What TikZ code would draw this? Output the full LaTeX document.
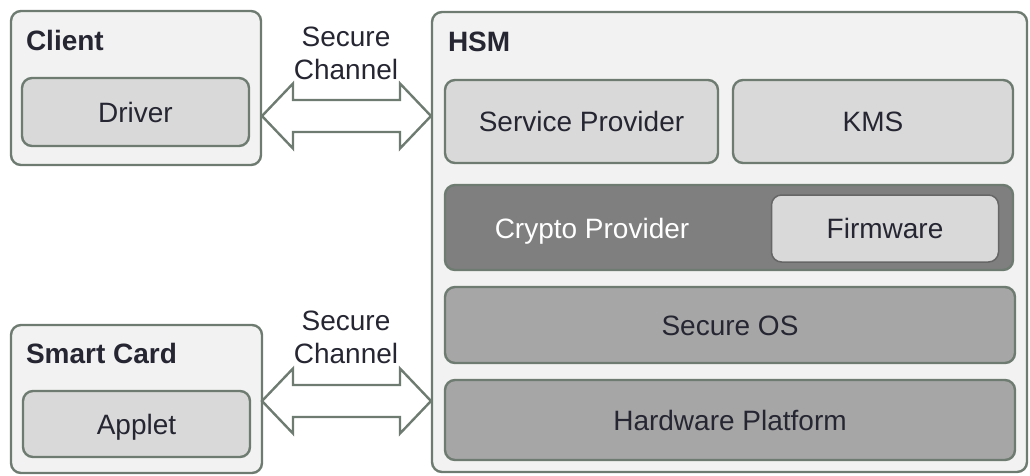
\documentclass[tikz,border=0pt]{standalone}
\usepackage{fontspec}
\setmainfont{Liberation Sans}
\usetikzlibrary{calc}
\definecolor{bordc}{HTML}{6E7B71}
\definecolor{outerfill}{HTML}{F2F2F2}
\definecolor{lightfill}{HTML}{D9D9D9}
\definecolor{darkfill}{HTML}{7F7F7F}
\definecolor{midfill}{HTML}{A6A6A6}
\definecolor{txt}{HTML}{262633}
\newcommand\fatarrow[2]{\draw[chan] (#1) -- ++(31,-32.5) -- ++(0,16.5) -- ($(#2)+(-31,-16)$) -- ++(0,-16.5) -- (#2) -- ++(-31,32.5) -- ++(0,-16.5) -- ($(#1)+(31,16)$) -- ++(0,16.5) -- cycle;}
\begin{document}
\begin{tikzpicture}[x=1pt,y=-1pt,
  every node/.style={font=\fontsize{28}{33}\selectfont, text=txt, inner sep=0pt, outer sep=0pt},
  boxtext/.style={text height=20pt, text depth=0pt},
  outerbox/.style={draw=bordc, line width=2.4pt, fill=outerfill, rounded corners=10pt},
  lightbox/.style={boxtext, draw=bordc, line width=2.4pt, fill=lightfill, rounded corners=10pt},
  darkbox/.style={draw=bordc, line width=2.4pt, fill=darkfill, rounded corners=10pt},
  midbox/.style={boxtext, draw=bordc, line width=2.4pt, fill=midfill, rounded corners=10pt},
  title/.style={font=\bfseries\fontsize{28}{33}\selectfont, anchor=west},
  chan/.style={draw=bordc, line width=2.4pt, fill=white, line join=miter},
  chanlabel/.style={align=center}
]
\useasboundingbox (0,0) rectangle (1030,475);
% Client
\node[outerbox, minimum width=250pt, minimum height=154pt] (client) at (136,88) {};
\node[title] (clientlbl) at (26,40) {Client};
\node[lightbox, minimum width=227pt, minimum height=68pt] (driver) at (135.5,112) {Driver};
% Smart card
\node[outerbox, minimum width=251pt, minimum height=148pt] (smart) at (136.5,399) {};
\node[title] (smartlbl) at (26,353) {Smart Card};
\node[lightbox, minimum width=227pt, minimum height=66pt] (applet) at (136.5,424) {Applet};
% HSM
\node[outerbox, minimum width=595pt, minimum height=460pt] (hsm) at (729.5,242) {};
\node[title] (hsmlbl) at (448,42) {HSM};
\node[lightbox, minimum width=273pt, minimum height=83pt] (sp) at (581.5,121.5) {Service Provider};
\node[lightbox, minimum width=280pt, minimum height=83pt] (kms) at (873,121.5) {KMS};
\node[darkbox, minimum width=568pt, minimum height=85pt] (crypto) at (729,227.5) {};
\node[boxtext, text=white] (cryptolbl) at (592,228) {Crypto Provider};
\node[lightbox, line width=1.5pt, draw=darkfill!80!black, minimum width=227pt, minimum height=67pt] (firmware) at (885,228.5) {Firmware};
\node[midbox, minimum width=570pt, minimum height=76pt] (os) at (730,325) {Secure OS};
\node[midbox, minimum width=570pt, minimum height=80pt] (hw) at (730,420) {Hardware Platform};
% Channels
\coordinate (c1l) at (262,116);
\coordinate (c1r) at (431,116);
\coordinate (c2l) at (262,401);
\coordinate (c2r) at (431,401);
\fatarrow{c1l}{c1r}
\fatarrow{c2l}{c2r}
\node[chanlabel] (ch1) at (346,53) {Secure\\Channel};
\node[chanlabel] (ch2) at (346,337) {Secure\\Channel};
\end{tikzpicture}
\end{document}
